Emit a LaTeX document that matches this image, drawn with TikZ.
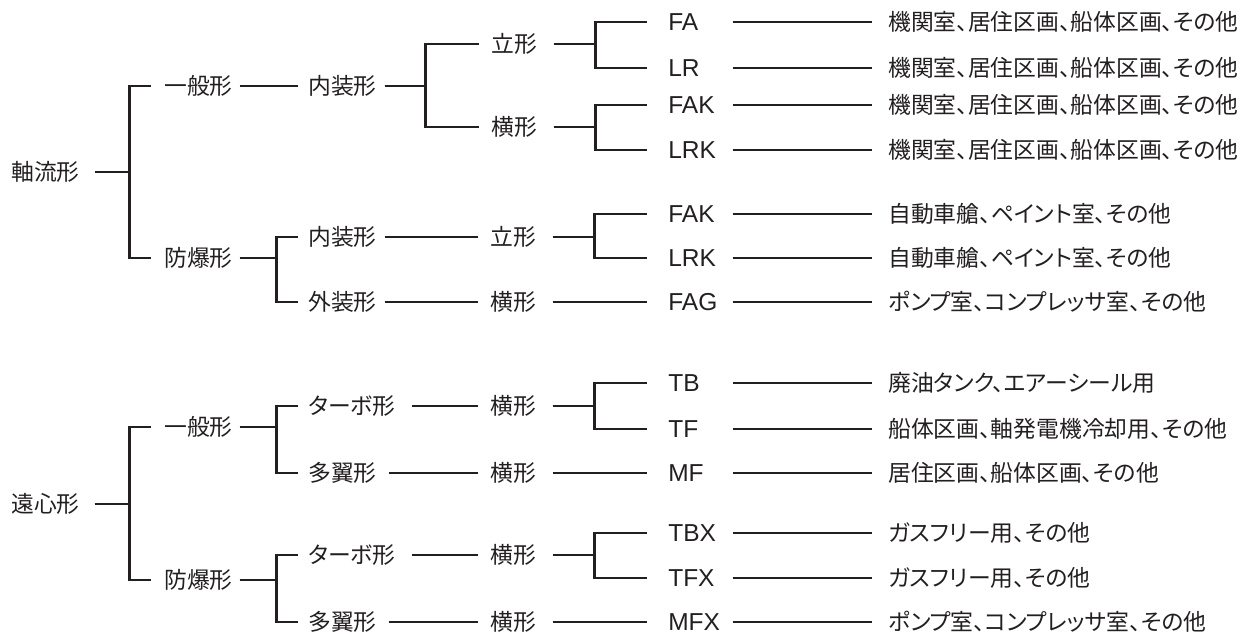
\documentclass[tikz,border=0pt]{standalone}
\usepackage{fontspec}
\setmainfont{Noto Sans CJK JP}[RawFeature=+palt]
\newfontfamily\latinfont{Liberation Sans}
\definecolor{ink}{RGB}{35,31,32}
\begin{document}
\begin{tikzpicture}[x=1pt, y=-1pt, line width=2.6pt, draw=ink, text=ink,
    font=\fontsize{22.8}{27}\selectfont,
    lv0/.style={anchor=west, inner xsep=0pt, inner ysep=0pt, text width=82pt, align=left},
    lv1/.style={anchor=west, inner xsep=12pt, inner ysep=0pt, text width=62pt, align=left},
    lv2/.style={anchor=west, inner xsep=9pt, inner ysep=0pt, text width=66pt, align=left},
    lv3/.style={anchor=west, inner xsep=11pt, inner ysep=0pt, text width=50pt, align=left},
    lv4/.style={anchor=west, inner xsep=20pt, inner ysep=0pt, text width=43pt, align=left,
      font=\latinfont\fontsize{24.5}{29}\selectfont},
    lv5/.style={anchor=west, inner xsep=15pt, inner ysep=0pt}]
      \useasboundingbox (0,0) rectangle (1245,635);

      \node[lv0] (jiku) at (10,172) {軸流形};
      \node[lv1] (ippan1) at (151,86) {一般形};
      \node[lv1] (bobaku1) at (151,258) {防爆形};
      \node[lv2] (naiso1) at (298,86) {内装形};
      \node[lv2] (naiso2) at (298,237) {内装形};
      \node[lv2] (gaiso) at (298,302) {外装形};
      \node[lv3] (tate1) at (479,44) {立形};
      \node[lv3] (yoko1) at (479,127) {横形};
      \node[lv3] (tate2) at (478,237) {立形};
      \node[lv3] (yoko2) at (478,302) {横形};
      \node[lv4] (fa) at (647,22) {FA};
      \node[lv4] (lr) at (647,68) {LR};
      \node[lv4] (fak1) at (647,105) {FAK};
      \node[lv4] (lrk1) at (647,150) {LRK};
      \node[lv4] (fak2) at (647,214) {FAK};
      \node[lv4] (lrk2) at (647,258) {LRK};
      \node[lv4] (fag) at (647,302) {FAG};
      \node[lv5] (dfa) at (872,22) {機関室、居住区画、船体区画、その他};
      \node[lv5] (dlr) at (872,68) {機関室、居住区画、船体区画、その他};
      \node[lv5] (dfak1) at (872,105) {機関室、居住区画、船体区画、その他};
      \node[lv5] (dlrk1) at (872,150) {機関室、居住区画、船体区画、その他};
      \node[lv5] (dfak2) at (872,214) {自動車艙、ペイント室、その他};
      \node[lv5] (dlrk2) at (872,258) {自動車艙、ペイント室、その他};
      \node[lv5] (dfag) at (872,302) {ポンプ室、コンプレッサ室、その他};

      \draw (jiku.east) -- ++(35,0) |- (ippan1.west);
      \draw (jiku.east) -- ++(35,0) |- (bobaku1.west);
      \draw (ippan1.east) -- (naiso1.west);
      \draw (bobaku1.east) -- ++(37,0) |- (naiso2.west);
      \draw (bobaku1.east) -- ++(37,0) |- (gaiso.west);
      \draw (naiso1.east) -- ++(41,0) |- (tate1.west);
      \draw (naiso1.east) -- ++(41,0) |- (yoko1.west);
      \draw (naiso2.east) -- (tate2.west);
      \draw (gaiso.east) -- (yoko2.west);
      \draw (tate1.east) -- ++(42,0) |- (fa.west);
      \draw (tate1.east) -- ++(42,0) |- (lr.west);
      \draw (yoko1.east) -- ++(42,0) |- (fak1.west);
      \draw (yoko1.east) -- ++(42,0) |- (lrk1.west);
      \draw (tate2.east) -- ++(42,0) |- (fak2.west);
      \draw (tate2.east) -- ++(42,0) |- (lrk2.west);
      \draw (yoko2.east) -- (fag.west);
      \draw (fa.east) -- (dfa.west);
      \draw (lr.east) -- (dlr.west);
      \draw (fak1.east) -- (dfak1.west);
      \draw (lrk1.east) -- (dlrk1.west);
      \draw (fak2.east) -- (dfak2.west);
      \draw (lrk2.east) -- (dlrk2.west);
      \draw (fag.east) -- (dfag.west);

      \node[lv0] (enshin) at (10,504) {遠心形};
      \node[lv1] (ippan2) at (151,427) {一般形};
      \node[lv1] (bobaku2) at (151,580) {防爆形};
      \node[lv2, text width=93pt] (turbo1) at (298,406) {ターボ形};
      \node[lv2, text width=70pt] (tayoku1) at (298,473) {多翼形};
      \node[lv2, text width=93pt] (turbo2) at (298,555) {ターボ形};
      \node[lv2, text width=70pt] (tayoku2) at (298,622) {多翼形};
      \node[lv3] (yoko3) at (478,406) {横形};
      \node[lv3] (yoko4) at (478,473) {横形};
      \node[lv3] (yoko5) at (478,555) {横形};
      \node[lv3] (yoko6) at (478,622) {横形};
      \node[lv4] (tb) at (647,383) {TB};
      \node[lv4] (tf) at (647,429) {TF};
      \node[lv4] (mf) at (647,473) {MF};
      \node[lv4] (tbx) at (647,533) {TBX};
      \node[lv4] (tfx) at (647,578) {TFX};
      \node[lv4] (mfx) at (647,622) {MFX};
      \node[lv5] (dtb) at (872,383) {廃油タンク、エアーシール用};
      \node[lv5] (dtf) at (872,429) {船体区画、軸発電機冷却用、その他};
      \node[lv5] (dmf) at (872,473) {居住区画、船体区画、その他};
      \node[lv5] (dtbx) at (872,533) {ガスフリー用、その他};
      \node[lv5] (dtfx) at (872,578) {ガスフリー用、その他};
      \node[lv5] (dmfx) at (872,622) {ポンプ室、コンプレッサ室、その他};

      \draw (enshin.east) -- ++(35,0) |- (ippan2.west);
      \draw (enshin.east) -- ++(35,0) |- (bobaku2.west);
      \draw (ippan2.east) -- ++(37,0) |- (turbo1.west);
      \draw (ippan2.east) -- ++(37,0) |- (tayoku1.west);
      \draw (bobaku2.east) -- ++(37,0) |- (turbo2.west);
      \draw (bobaku2.east) -- ++(37,0) |- (tayoku2.west);
      \draw (turbo1.east) -- (yoko3.west);
      \draw (tayoku1.east) -- (yoko4.west);
      \draw (turbo2.east) -- (yoko5.west);
      \draw (tayoku2.east) -- (yoko6.west);
      \draw (yoko3.east) -- ++(42,0) |- (tb.west);
      \draw (yoko3.east) -- ++(42,0) |- (tf.west);
      \draw (yoko4.east) -- (mf.west);
      \draw (yoko5.east) -- ++(42,0) |- (tbx.west);
      \draw (yoko5.east) -- ++(42,0) |- (tfx.west);
      \draw (yoko6.east) -- (mfx.west);
      \draw (tb.east) -- (dtb.west);
      \draw (tf.east) -- (dtf.west);
      \draw (mf.east) -- (dmf.west);
      \draw (tbx.east) -- (dtbx.west);
      \draw (tfx.east) -- (dtfx.west);
      \draw (mfx.east) -- (dmfx.west);
    \end{tikzpicture}
\end{document}
